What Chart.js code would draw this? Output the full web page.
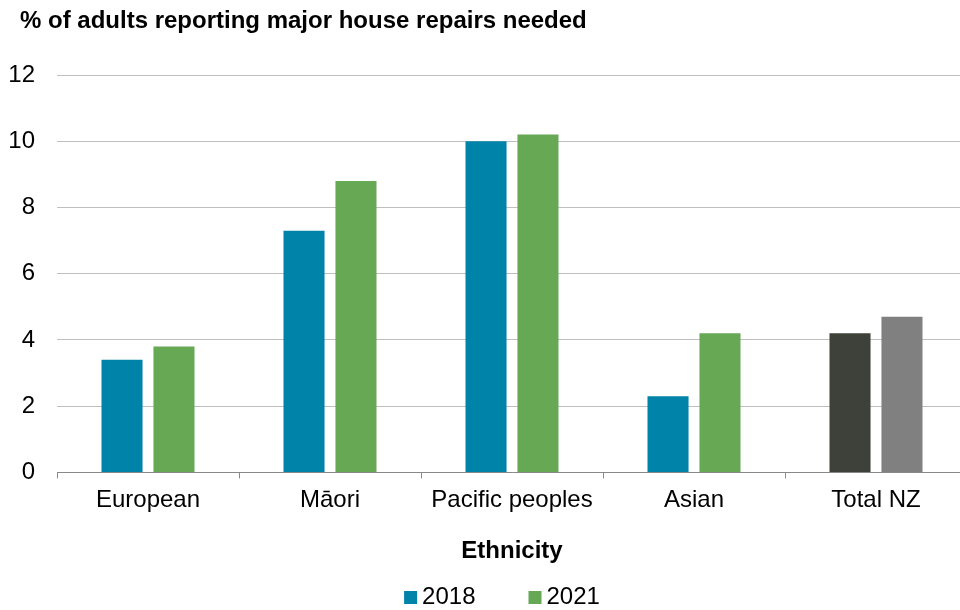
<!DOCTYPE html>
<html>
<head>
<meta charset="utf-8">
<script src="https://cdn.jsdelivr.net/npm/chart.js@4/dist/chart.umd.min.js"></script>
<style>
  html, body { margin: 0; padding: 0; background: #fff; overflow: hidden; }
  #wrap { width: 970px; height: 610px; }
</style>
</head>
<body>
<div id="wrap"><canvas id="chart" width="970" height="610"></canvas></div>
<script>
// data
const categories = ["European", "Māori", "Pacific peoples", "Asian", "Total NZ"];
const values2018 = [3.4, 7.3, 10.0, 2.3, 4.2];
const values2021 = [3.8, 8.8, 10.2, 4.2, 4.7];
const seriesNames = ["2018", "2021"];
const yTicks = [0, 2, 4, 6, 8, 10, 12];
const chartTitle = "% of adults reporting major house repairs needed";
const xTitle = "Ethnicity";

// colours
const BLUE = "#0083a9";
const GREEN = "#67a855";
const DARK = "#3e413a";
const GREY = "#808080";
const FONT = "'Liberation Sans', Arial, sans-serif";

// total NZ bars get their own grey tones
function colourFor(main, total) {
  return function (ctx) {
    return ctx.dataIndex === categories.length - 1 ? total : main;
  };
}

// title at top left and legend at bottom, drawn by hand
const decorations = {
  id: "decorations",
  afterDraw(chart) {
    const c = chart.ctx;
    c.save();
    c.fillStyle = "#000";
    c.textBaseline = "alphabetic";
    c.textAlign = "left";
    c.font = "bold 24px " + FONT;
    c.fillText(chartTitle, 20, 28);

    // legend
    c.font = "24px " + FONT;
    const box = 13, gapText = 5, gapItem = 53;
    const items = chart.data.datasets.map(function (ds) {
      return { text: ds.label, colour: ds.legendColour, w: c.measureText(ds.label).width };
    });
    let total = 0;
    items.forEach(function (it, i) {
      total += box + gapText + it.w + (i > 0 ? gapItem : 0);
    });
    let x = 502 - total / 2;
    items.forEach(function (it) {
      c.fillStyle = it.colour;
      c.fillRect(x, 591, box, box);
      c.fillStyle = "#000";
      c.fillText(it.text, x + box + gapText, 604);
      x += box + gapText + it.w + gapItem;
    });
    c.restore();
  },
};

const ctx = document.getElementById("chart").getContext("2d");
const chart = new Chart(ctx, {
  type: "bar",
  data: {
    labels: categories,
    datasets: [
      {
        label: seriesNames[0],
        data: values2018,
        backgroundColor: colourFor(BLUE, DARK),
        legendColour: BLUE,
        categoryPercentage: 0.571,
        barPercentage: 0.79,
      },
      {
        label: seriesNames[1],
        data: values2021,
        backgroundColor: colourFor(GREEN, GREY),
        legendColour: GREEN,
        categoryPercentage: 0.571,
        barPercentage: 0.79,
      },
    ],
  },
  options: {
    responsive: false,
    animation: false,
    layout: { padding: { left: 0, right: 3, top: 75, bottom: 44 } },
    plugins: {
      title: { display: false },
      legend: { display: false },
      tooltip: { enabled: false },
    },
    scales: {
      x: {
        grid: {
          drawOnChartArea: false,
          drawTicks: true,
          tickLength: 6,
          offset: true,
          color: "#898989",
        },
        border: { color: "#898989", width: 1 },
        ticks: {
          color: "#000",
          font: { family: FONT, size: 24 },
          padding: 8,
          maxRotation: 0,
        },
        title: {
          display: true,
          text: xTitle,
          color: "#000",
          font: { family: FONT, size: 24, weight: "bold" },
          padding: { top: 14, bottom: 0 },
        },
      },
      y: {
        min: yTicks[0],
        max: yTicks[yTicks.length - 1],
        afterBuildTicks: function (scale) {
          scale.ticks = yTicks.map(function (v) { return { value: v }; });
        },
        afterFit: function (scale) {
          scale.width = 57;
        },
        grid: { color: "#bfbfbf", drawTicks: false },
        border: { display: false },
        ticks: {
          color: "#000",
          font: { family: FONT, size: 24 },
          padding: 22,
        },
      },
    },
  },
  plugins: [decorations],
});
</script>
</body>
</html>
